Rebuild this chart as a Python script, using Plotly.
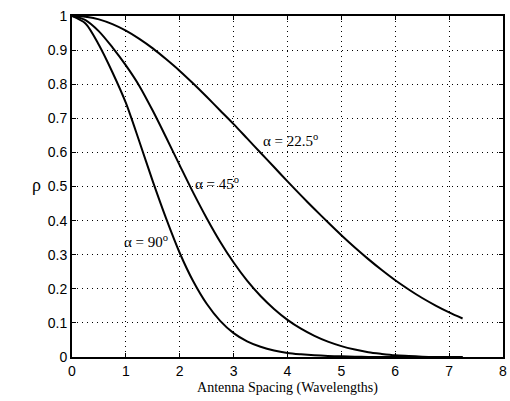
import plotly.graph_objects as go

# Antenna spacing in wavelengths
spacing = [0, 0.25, 0.5, 0.75, 1.0, 1.25, 1.5, 1.75, 2.0, 2.25, 2.5, 2.75,
           3.0, 3.25, 3.5, 3.75, 4.0, 4.25, 4.5, 4.75, 5.0, 5.25, 5.5, 5.75,
           6.0, 6.25, 6.5, 6.75, 7.0, 7.25]

# Correlation coefficient rho for each angular spread
rho_22_5 = [1.0, 0.998, 0.99, 0.976, 0.957, 0.933, 0.905, 0.873, 0.839, 0.802,
            0.763, 0.723, 0.683, 0.641, 0.599, 0.557, 0.515, 0.474, 0.434, 0.395,
            0.357, 0.321, 0.287, 0.255, 0.225, 0.198, 0.173, 0.151, 0.131, 0.113]
rho_45 = [1.0, 0.988, 0.955, 0.908, 0.855, 0.795, 0.722, 0.643, 0.562, 0.482,
          0.407, 0.338, 0.277, 0.224, 0.179, 0.141, 0.109, 0.083, 0.062, 0.045,
          0.032, 0.022, 0.014, 0.009, 0.005, 0.003, 0.001, 0.0, 0.0, 0.0]
rho_90 = [1.0, 0.978, 0.915, 0.835, 0.745, 0.632, 0.515, 0.405, 0.305, 0.222,
          0.156, 0.106, 0.07, 0.046, 0.03, 0.019, 0.012, 0.008, 0.005, 0.003,
          0.002, 0.001, 0.0, 0.0, 0.0, 0.0, 0.0, 0.0, 0.0, 0.0]

curve_labels = ["α = 22.5<sup>o</sup>", "α = 45<sup>o</sup>", "α = 90<sup>o</sup>"]
label_x = [4.06, 2.70, 1.38]
label_y = [0.635, 0.51, 0.34]

x_ticks = list(range(0, 9))
y_ticks = [0, 0.1, 0.2, 0.3, 0.4, 0.5, 0.6, 0.7, 0.8, 0.9, 1]

fig = go.Figure()
for series in (rho_22_5, rho_45, rho_90):
    fig.add_trace(go.Scatter(x=spacing, y=series, mode="lines",
                             line=dict(color="black", width=2, shape="spline", smoothing=0.8),
                             showlegend=False, hoverinfo="skip", cliponaxis=True))

for text, lx, ly in zip(curve_labels, label_x, label_y):
    fig.add_annotation(x=lx, y=ly, text=text, showarrow=False,
                       font=dict(family="Liberation Serif", size=15, color="black"))

# upright rho label to the left of the axis
fig.add_annotation(xref="paper", yref="paper", x=-0.083, y=0.505, text="ρ",
                   xanchor="center", yanchor="middle", showarrow=False,
                   font=dict(family="Liberation Serif", size=18, color="black"))

axis_common = dict(
    showline=True, linecolor="black", linewidth=2, mirror="ticks",
    ticks="inside", ticklen=4, tickwidth=1, tickcolor="black",
    showgrid=True, gridcolor="black", gridwidth=1, griddash="1px,4px",
    zeroline=False,
    tickfont=dict(family="Liberation Sans", size=14, color="black"),
)

fig.update_xaxes(range=[0, 8], tickvals=x_ticks,
                 title=dict(text="Antenna Spacing (Wavelengths)", standoff=4,
                            font=dict(family="Liberation Serif", size=14, color="black")),
                 **axis_common)
fig.update_yaxes(range=[0, 1], tickvals=y_ticks, **axis_common)

fig.update_layout(
    width=510, height=401,
    margin=dict(l=72, r=3, t=16, b=44),
    paper_bgcolor="white", plot_bgcolor="white",
)

fig.write_html("out.html")
